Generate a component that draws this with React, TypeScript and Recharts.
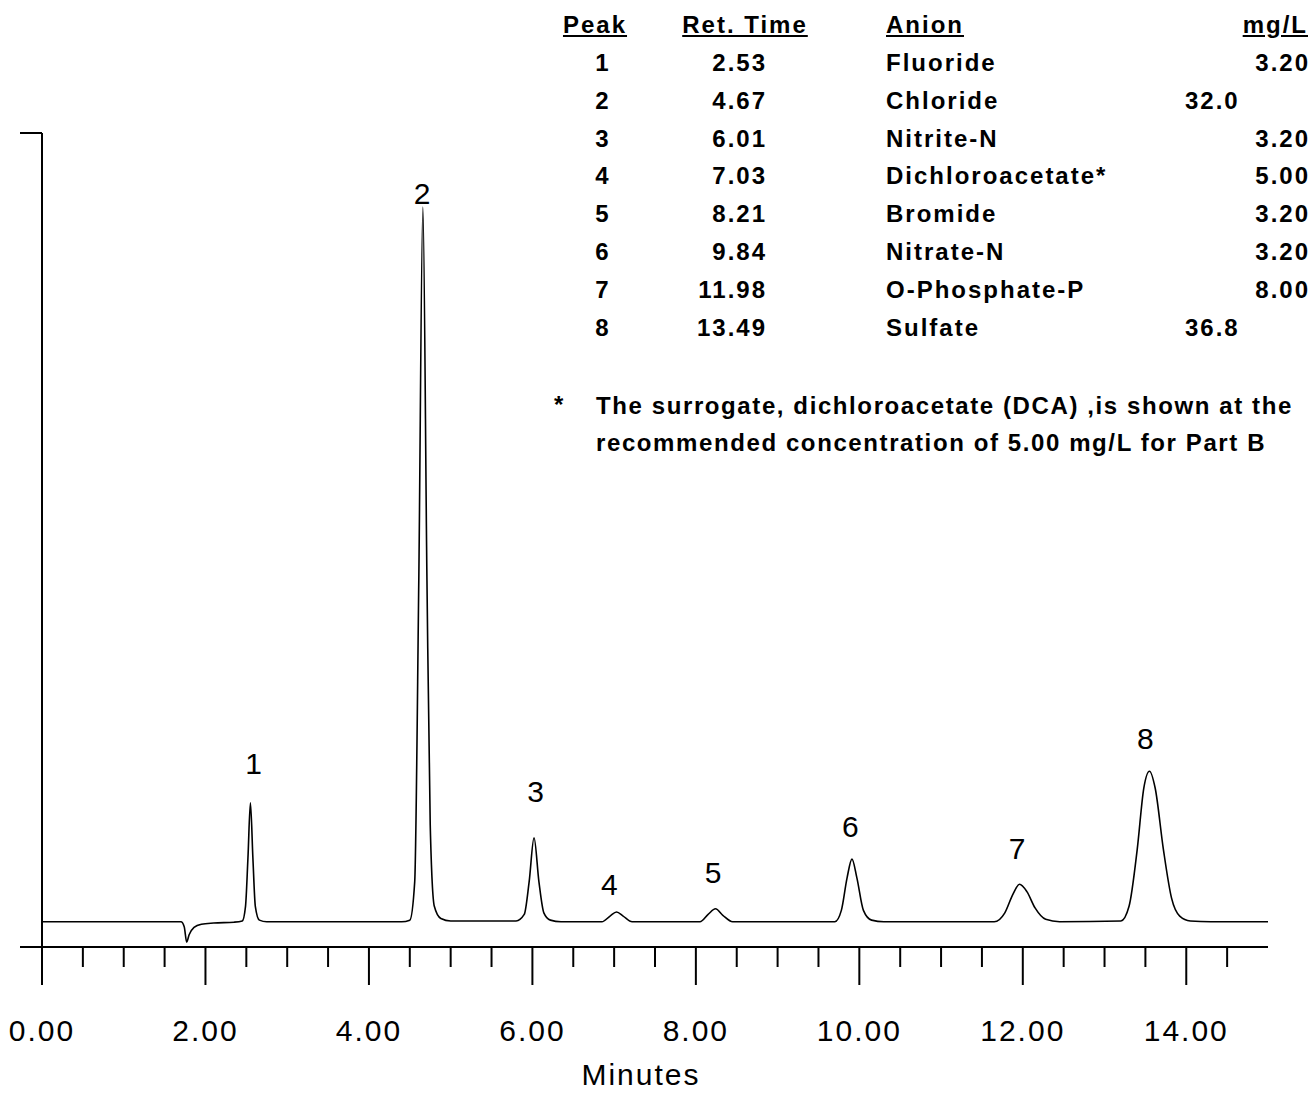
import { ComposedChart, Line, Scatter, XAxis, YAxis } from 'recharts';

// detector trace, minutes vs response
const traceTime = [0, 1.7, 1.74, 1.77, 1.8, 1.86, 1.95, 2.1, 2.35, 2.45, 2.49, 2.52, 2.55, 2.58, 2.61, 2.66, 2.75,
  4.4, 4.5, 4.56, 4.61, 4.66, 4.71, 4.75, 4.8, 4.88, 5.0, 5.8, 5.9, 5.96, 6.02, 6.08, 6.14, 6.22, 6.35,
  6.85, 6.95, 7.03, 7.11, 7.22, 8.05, 8.15, 8.24, 8.33, 8.45, 9.7, 9.78, 9.85, 9.91, 9.97, 10.05, 10.15, 10.3,
  11.65, 11.78, 11.88, 11.96, 12.05, 12.15, 12.28, 12.45, 13.2, 13.3, 13.4, 13.48, 13.55, 13.62, 13.72, 13.82,
  13.92, 14.05, 14.3, 15.0];
const traceSignal = [3.1, 3.1, 2.5, 0.6, 1.5, 2.4, 2.8, 2.95, 3.05, 3.2, 5, 11, 17.7, 11, 5, 3.3, 3.1,
  3.1, 3.3, 8, 45, 90.9, 45, 15, 5, 3.5, 3.2, 3.2, 4, 8, 13.4, 8, 4.2, 3.3, 3.1,
  3.1, 3.8, 4.3, 3.8, 3.1, 3.1, 4.0, 4.7, 3.9, 3.1, 3.1, 4.5, 8.5, 10.8, 8.5, 4.5, 3.3, 3.1,
  3.1, 4.2, 6.5, 7.7, 6.8, 4.8, 3.4, 3.1, 3.2, 5, 12, 19.5, 21.6, 19.5, 12, 6,
  3.8, 3.2, 3.1, 3.1];

const peakNames = ['1', '2', '3', '4', '5', '6', '7', '8'];
const peakLabelTime = [2.59, 4.65, 6.04, 6.94, 8.21, 9.89, 11.93, 13.5];
const peakLabelLevel = [22.6, 92.6, 19.2, 7.7, 9.2, 14.9, 12.2, 25.7];

const xTicks = [0, 0.5, 1, 1.5, 2, 2.5, 3, 3.5, 4, 4.5, 5, 5.5, 6, 6.5, 7, 7.5, 8, 8.5, 9, 9.5, 10, 10.5, 11, 11.5, 12, 12.5, 13, 13.5, 14, 14.5];
const xLabels = [0, 2, 4, 6, 8, 10, 12, 14];

const tablePeak = ['1', '2', '3', '4', '5', '6', '7', '8'];
const tableRet = ['2.53', '4.67', '6.01', '7.03', '8.21', '9.84', '11.98', '13.49'];
const tableAnion = ['Fluoride', 'Chloride', 'Nitrite-N', 'Dichloroacetate*', 'Bromide', 'Nitrate-N', 'O-Phosphate-P', 'Sulfate'];
const tableConc = ['3.20', '32.0', '3.20', '5.00', '3.20', '3.20', '8.00', '36.8'];

const trace = traceTime.map((t, i) => ({ t, v: traceSignal[i] }));
const peakLabels = peakNames.map((n, i) => ({ t: peakLabelTime[i], v: peakLabelLevel[i], n }));

const FONT = '"Liberation Sans", Arial, sans-serif';

const XTick = (props: any) => {
  const { x, y, payload } = props;
  const val = payload.value;
  const major = xLabels.includes(val);
  return (
    <g>
      <line x1={x} x2={x} y1={y} y2={y + (major ? 38 : 20)} stroke="#000" strokeWidth={2} />
      {major && (
        <text x={x} y={y + 94} textAnchor="middle" fontSize={30} fontFamily={FONT} letterSpacing={2} fill="#000">
          {val.toFixed(2)}
        </text>
      )}
    </g>
  );
};

const YTick = (props: any) => {
  const { x, y } = props;
  return <line x1={x - 22} x2={x} y1={y} y2={y} stroke="#000" strokeWidth={2} />;
};

const LabelShape = (props: any) => {
  const { cx, cy, payload } = props;
  return (
    <text x={cx} y={cy + 11} textAnchor="middle" fontSize={30} fontFamily={FONT} fill="#000">
      {payload.n}
    </text>
  );
};

const cell = (extra: any) => ({ position: 'absolute' as const, fontSize: 24, fontWeight: 700, letterSpacing: 2, lineHeight: '30px', ...extra });

export default function App() {
  const rowY = (i: number) => 48 + i * 37.8;
  return (
    <div style={{ position: 'absolute', left: 0, top: 0, width: 1310, height: 1093, overflow: 'hidden', background: '#fff', fontFamily: FONT }}>
      <ComposedChart width={1310} height={1093} data={trace} margin={{ top: 133, right: 42, bottom: 0, left: 20 }}>
        <XAxis dataKey="t" type="number" domain={[0, 15]} ticks={xTicks} interval={0} height={146}
          axisLine={{ stroke: '#000', strokeWidth: 2 }} tickLine={false} tickSize={0} tickMargin={0} tick={<XTick />} />
        <YAxis type="number" domain={[0, 100]} ticks={[0, 100]} width={22}
          axisLine={{ stroke: '#000', strokeWidth: 2 }} tickLine={false} tickSize={0} tickMargin={0} tick={<YTick />} />
        <Line dataKey="v" type="monotone" stroke="#000" strokeWidth={1.6} dot={false} isAnimationActive={false} />
        <Scatter data={peakLabels} dataKey="v" shape={<LabelShape />} isAnimationActive={false} />
      </ComposedChart>

      <div style={cell({ left: 555, top: 10, width: 80, textAlign: 'center', textDecoration: 'underline' })}>Peak</div>
      <div style={cell({ left: 660, top: 10, width: 170, textAlign: 'center', textDecoration: 'underline' })}>Ret. Time</div>
      <div style={cell({ left: 886, top: 10, textDecoration: 'underline' })}>Anion</div>
      <div style={cell({ left: 1200, top: 10, width: 108, textAlign: 'right', textDecoration: 'underline' })}>mg/L</div>
      {tablePeak.map((p, i) => (
        <div key={i}>
          <div style={cell({ left: 563, top: rowY(i), width: 80, textAlign: 'center' })}>{p}</div>
          <div style={cell({ left: 660, top: rowY(i), width: 107, textAlign: 'right' })}>{tableRet[i]}</div>
          <div style={cell({ left: 886, top: rowY(i) })}>{tableAnion[i]}</div>
          <div style={cell({ left: 1180, top: rowY(i), width: 130, textAlign: i === 1 || i === 7 ? 'left' : 'right', paddingLeft: i === 1 || i === 7 ? 5 : 0, boxSizing: 'border-box' })}>{tableConc[i]}</div>
        </div>
      ))}
      <div style={cell({ left: 554, top: 390 })}>*</div>
      <div style={cell({ left: 596, top: 391, whiteSpace: 'nowrap', letterSpacing: 1.6 })}>The surrogate, dichloroacetate (DCA) ,is shown at the</div>
      <div style={cell({ left: 596, top: 428, whiteSpace: 'nowrap', letterSpacing: 1.6 })}>recommended concentration of 5.00 mg/L for Part B</div>
      <div style={{ position: 'absolute', left: 0, width: 1282, top: 1058, textAlign: 'center', fontSize: 30, letterSpacing: 2 }}>Minutes</div>
    </div>
  );
}
